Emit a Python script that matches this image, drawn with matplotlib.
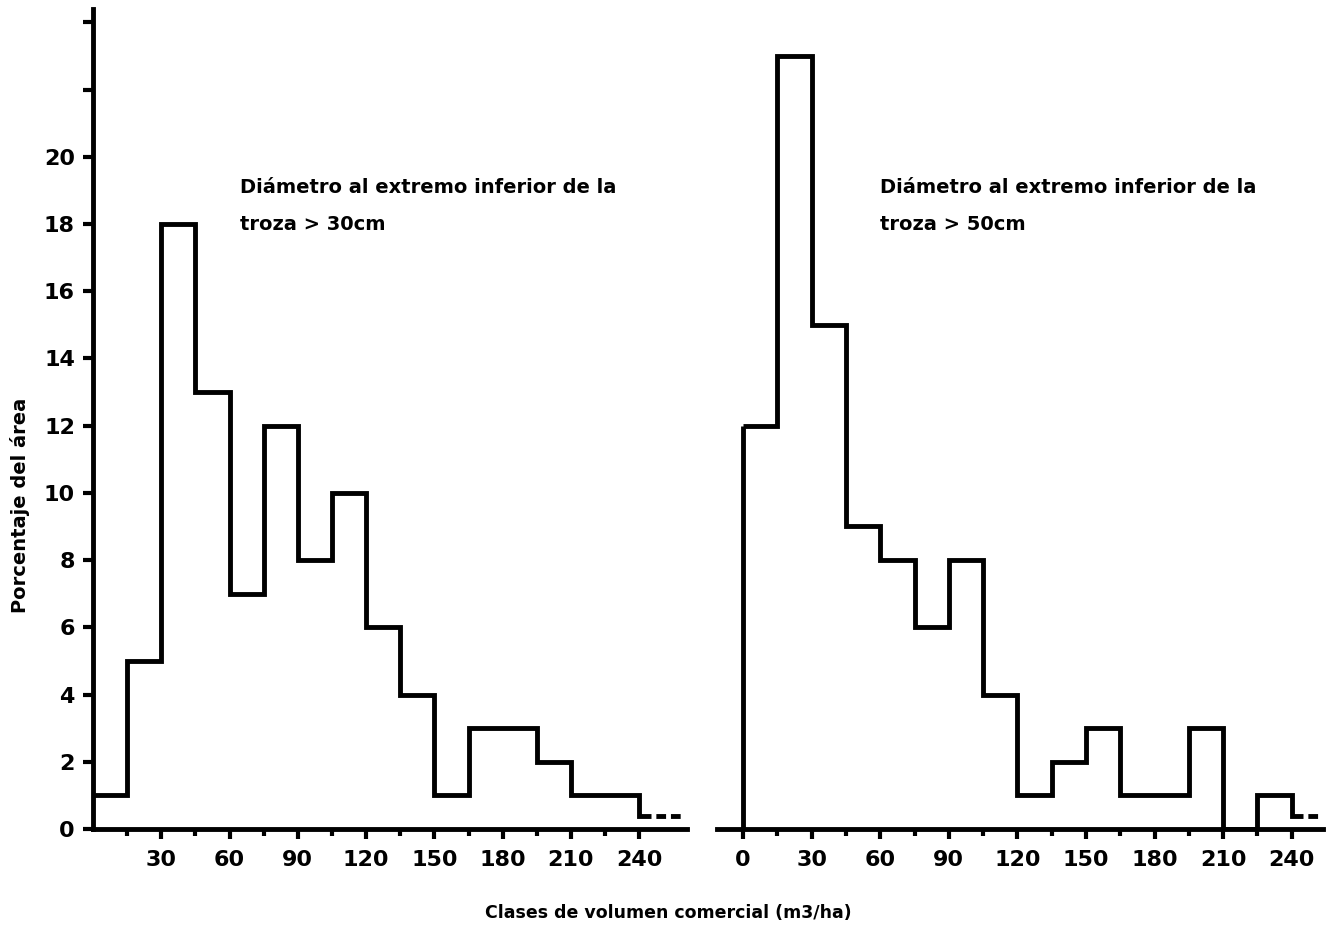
import matplotlib
matplotlib.use("Agg")
from matplotlib import pyplot as plt

# volume classes (m3/ha), bins of 15
bin_edges = [0, 15, 30, 45, 60, 75, 90, 105, 120, 135, 150, 165, 180, 195, 210, 225, 240]
# % of area, log diameter > 30 cm
left_pct = [1, 5, 18, 13, 7, 12, 8, 10, 6, 4, 1, 3, 3, 2, 1, 1]
# % of area, log diameter > 50 cm
right_pct = [12, 23, 15, 9, 8, 6, 8, 4, 1, 2, 3, 1, 1, 3, 0, 1]
# small open-ended class beyond 240
tail_pct = 0.4
left_tail_end = 259
right_tail_end = 253

y_ticks = [0, 2, 4, 6, 8, 10, 12, 14, 16, 18, 20, 22, 24]
y_labels = ["0", "2", "4", "6", "8", "10", "12", "14", "16", "18", "20", "", ""]
left_xticks = [30, 60, 90, 120, 150, 180, 210, 240]
right_xticks = [0, 30, 60, 90, 120, 150, 180, 210, 240]

title_line1 = "Diámetro al extremo inferior de la"
left_line2 = "troza > 30cm"
right_line2 = "troza > 50cm"

plt.rcParams['font.family'] = ['DejaVu Sans']
plt.rcParams['font.weight'] = 'bold'

lw = 3.5
fig = plt.figure(figsize=(13.38, 9.31), dpi=100)
axL = fig.add_axes([0.0695, 0.1096, 0.444, 0.8808])
axR = fig.add_axes([0.5359, 0.1096, 0.4529, 0.8808])


def draw_panel(ax, pct, tail_end, xlim, xticks, close_left):
    solid_end = bin_edges[-1] + 5
    ax.stairs(pct + [tail_pct], bin_edges + [solid_end], baseline=None,
              color='black', lw=lw)
    # dashed open end
    ax.hlines(tail_pct, solid_end, tail_end, color='black', lw=lw,
              linestyle=(2, (2, 1)))
    if close_left:
        ax.vlines(bin_edges[0], 0, pct[0], color='black', lw=lw)
    ax.set_xlim(*xlim)
    ax.set_ylim(0, 24.4)
    ax.set_xticks(xticks)
    ax.set_xticklabels([str(t) for t in xticks], fontsize=16, fontweight='bold')
    minors = [e for e in bin_edges[1:-1] if e % 30 != 0]
    ax.set_xticks(minors, minor=True)
    ax.tick_params(axis='x', which='major', direction='out', length=7, width=3, pad=8)
    ax.tick_params(axis='x', which='minor', direction='out', length=5, width=3)
    for s in ['top', 'right']:
        ax.spines[s].set_visible(False)
    ax.spines['bottom'].set_linewidth(lw)
    ax.spines['left'].set_linewidth(lw)


draw_panel(axL, left_pct, left_tail_end, (0, 261), left_xticks, False)
draw_panel(axR, right_pct, right_tail_end, (-11.4, 253.7), right_xticks, True)

axL.set_yticks(y_ticks)
axL.set_yticklabels(y_labels, fontsize=16, fontweight='bold')
axL.tick_params(axis='y', direction='out', length=7, width=3, pad=6)

axR.spines['left'].set_visible(False)
axR.set_yticks([])

axL.text(64.6, 19.1, title_line1, fontsize=14, fontweight='bold', va='center')
axL.text(64.6, 18.0, left_line2, fontsize=14, fontweight='bold', va='center')
axR.text(60, 19.1, title_line1, fontsize=14, fontweight='bold', va='center')
axR.text(60, 18.0, right_line2, fontsize=14, fontweight='bold', va='center')

fig.text(0.015, 0.4576, "Porcentaje del área", rotation=90, fontsize=14,
         fontweight='bold', ha='center', va='center')
fig.text(0.4993, 0.019, "Clases de volumen comercial (m3/ha)", fontsize=12.5,
         fontweight='bold', ha='center', va='center')

fig.savefig("out.png", dpi=100)
